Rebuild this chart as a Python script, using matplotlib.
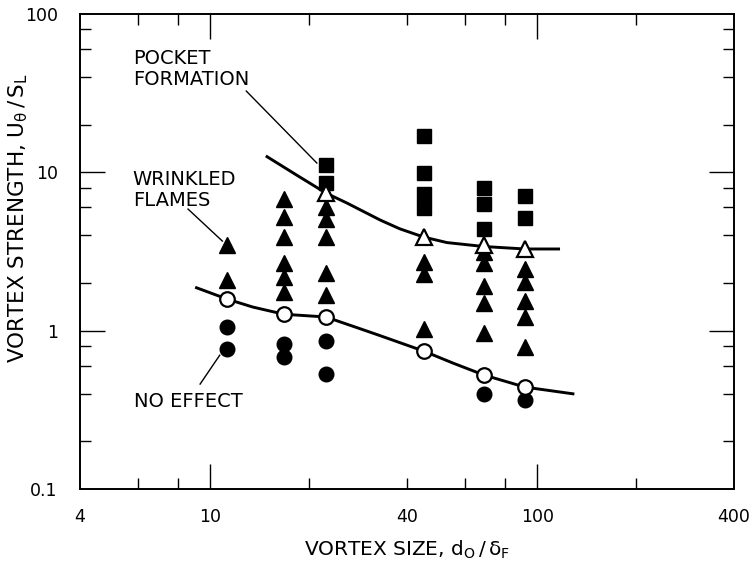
import matplotlib
matplotlib.use("Agg")
import matplotlib.pyplot as plt
from matplotlib.ticker import FixedLocator, NullFormatter

# ---- data ----
sq_x = [22.6, 22.6, 45, 45, 45, 45, 68.7, 68.7, 68.7, 91.8, 91.8]
sq_y = [11.1, 8.56, 17.0, 9.94, 7.3, 5.95, 8.0, 6.3, 4.38, 7.08, 5.14]

tri_x = [11.3, 11.3,
         16.8, 16.8, 16.8, 16.8, 16.8, 16.8,
         22.6, 22.6, 22.6, 22.6, 22.6,
         45, 45, 45,
         68.7, 68.7, 68.7, 68.7, 68.7,
         91.8, 91.8, 91.8, 91.8, 91.8]
tri_y = [3.47, 2.09,
         6.78, 5.22, 3.9, 2.67, 2.18, 1.75,
         6.04, 5.07, 3.9, 2.31, 1.68,
         2.71, 2.28, 1.02,
         3.14, 2.67, 1.91, 1.49, 0.966,
         2.45, 2.03, 1.54, 1.22, 0.787]

otri_x = [22.6, 45, 68.7, 91.8]
otri_y = [7.4, 3.9, 3.47, 3.28]

ocirc_x = [11.3, 16.8, 22.6, 45, 68.7, 91.8]
ocirc_y = [1.58, 1.27, 1.22, 0.743, 0.525, 0.44]

circ_x = [11.3, 11.3, 16.8, 16.8, 22.6, 22.6, 68.7, 91.8]
circ_y = [1.05, 0.765, 0.82, 0.68, 0.86, 0.53, 0.40, 0.365]

# boundary curves
upper_x = [14.8, 18.4, 22.6, 26.2, 33.1, 38, 45, 53, 68.7, 91.8, 117.5]
upper_y = [12.7, 9.6, 7.4, 6.4, 5.0, 4.4, 3.9, 3.6, 3.4, 3.28, 3.28]
lower_x = [9.0, 11.3, 13.5, 16.8, 22.6, 28.7, 33.1, 45, 55.3, 68.7, 91.8, 130]
lower_y = [1.88, 1.58, 1.41, 1.27, 1.22, 1.03, 0.93, 0.743, 0.624, 0.525, 0.44, 0.398]

x_tick_vals = [4, 10, 40, 100, 400]
x_tick_labels = ["4", "10", "40", "100", "400"]
y_tick_vals = [0.1, 1, 10, 100]
y_tick_labels = ["0.1", "1", "10", "100"]

plt.rcParams['font.family'] = ['DejaVu Sans']
plt.rcParams['mathtext.fontset'] = 'dejavusans'

fig = plt.figure(figsize=(7.51, 5.66), dpi=100)
ax = fig.add_axes([80/751, 1 - 489/566, (734-80)/751, (489-14)/566])
ax.set_xscale('log')
ax.set_yscale('log')
ax.set_xlim(4, 400)
ax.set_ylim(0.1, 100)

lw = 2.1
ax.plot(upper_x, upper_y, color='black', lw=lw, zorder=2, solid_capstyle='butt')
ax.plot(lower_x, lower_y, color='black', lw=lw, zorder=2, solid_capstyle='butt')

ax.plot(sq_x, sq_y, ls='none', marker='s', ms=9.5, color='black', zorder=3)
ax.plot(tri_x, tri_y, ls='none', marker='^', ms=12, color='black', zorder=3)
ax.plot(circ_x, circ_y, ls='none', marker='o', ms=10.5, color='black', zorder=3)
ax.plot(otri_x, otri_y, ls='none', marker='^', ms=12, mfc='white', mec='black',
        mew=1.6, zorder=4)
ax.plot(ocirc_x, ocirc_y, ls='none', marker='o', ms=10.5, mfc='white', mec='black',
        mew=1.6, zorder=4)

# annotations
fs = 14
ax.text(5.8, 60.1, "POCKET\nFORMATION", fontsize=fs, va='top', ha='left', linespacing=1.1)
ax.plot([12.9, 21.2], [32.6, 11.45], color='black', lw=1.0)
ax.text(5.8, 10.3, "WRINKLED\nFLAMES", fontsize=fs, va='top', ha='left', linespacing=1.1)
ax.plot([8.56, 10.9], [5.86, 3.68], color='black', lw=1.0)
ax.text(5.85, 0.409, "NO EFFECT", fontsize=fs, va='top', ha='left')
ax.plot([9.32, 10.7], [0.46, 0.70], color='black', lw=1.0)

# ticks
ax.xaxis.set_major_locator(FixedLocator(x_tick_vals))
ax.xaxis.set_minor_locator(FixedLocator([6, 8, 20, 60, 80, 200]))
ax.set_xticklabels(x_tick_labels)
ax.xaxis.set_minor_formatter(NullFormatter())
ax.yaxis.set_major_locator(FixedLocator(y_tick_vals))
ax.yaxis.set_minor_locator(FixedLocator([0.2, 0.4, 0.6, 0.8, 2, 4, 6, 8, 20, 40, 60, 80]))
ax.set_yticklabels(y_tick_labels)
ax.yaxis.set_minor_formatter(NullFormatter())

ax.tick_params(which='both', direction='in', top=True, right=True, width=1.0,
               labelsize=12.5, colors='black')
ax.tick_params(which='major', length=18)
ax.tick_params(axis='x', which='major', pad=14)
ax.tick_params(axis='y', which='major', pad=16)
ax.tick_params(which='minor', length=8)
for t, v in zip(ax.xaxis.get_major_ticks(), x_tick_vals):
    if v in (4, 400):
        t.tick1line.set_markersize(0); t.tick2line.set_markersize(0)
    elif v == 40:
        t.tick1line.set_markersize(8); t.tick2line.set_markersize(8)
for t, v in zip(ax.yaxis.get_major_ticks(), y_tick_vals):
    if v in (0.1, 100):
        t.tick1line.set_markersize(0); t.tick2line.set_markersize(0)

for s in ax.spines.values():
    s.set_linewidth(1.4)

ax.set_xlabel(r"VORTEX SIZE, $\mathregular{d_O\,/\,\delta_F}$", fontsize=14.5)
ax.xaxis.set_label_coords(0.5, -0.104)
ax.set_ylabel(r"VORTEX STRENGTH, $\mathregular{U_\theta\,/\,S_L}$", fontsize=15.5)
ax.yaxis.set_label_coords(-0.076, 0.57)

fig.savefig("out.png", dpi=100)
